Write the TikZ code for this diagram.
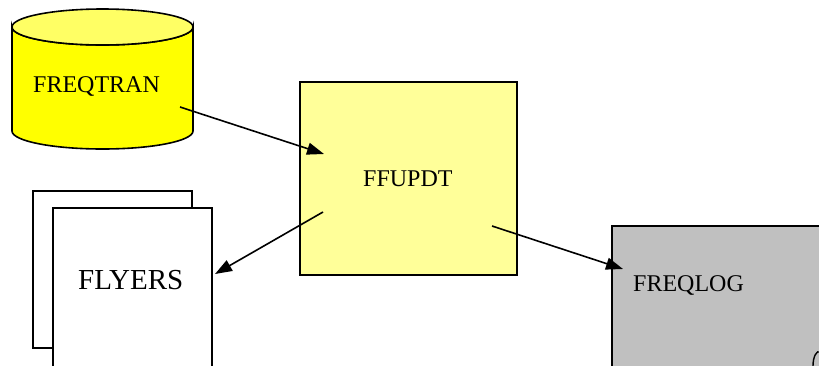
\documentclass[tikz,border=0pt]{standalone}
\usepackage{fontspec}
\setmainfont{Liberation Serif}
\usetikzlibrary{arrows.meta}
\definecolor{cylyellow}{RGB}{255,255,0}
\definecolor{cyltop}{RGB}{255,255,100}
\definecolor{paleyellow}{RGB}{255,255,153}
\definecolor{loggray}{RGB}{192,192,192}
\begin{document}
\begin{tikzpicture}[x=1pt,y=-1pt,
  shape line/.style={draw=black,line width=1.6pt},
  label text/.style={inner sep=0pt,anchor=base west,font=\fontsize{24}{28}\selectfont},
  big text/.style={inner sep=0pt,anchor=base west,font=\fontsize{29}{34}\selectfont},
  flow/.style={draw=black,line width=1.6pt,-{Triangle[length=17pt,width=12pt]}}]
\useasboundingbox (0,0) rectangle (819,365);
\clip (0,0) rectangle (819,365);
% FREQTRAN cylinder
\path[shape line,fill=cylyellow] (12,27) -- (12,131)
  arc[start angle=180,end angle=0,x radius=90.5,y radius=18] -- (193,27)
  arc[start angle=0,end angle=180,x radius=90.5,y radius=18] -- cycle;
\path[shape line,fill=cyltop] (102.5,27) ellipse[x radius=90.5,y radius=18];
\node[label text] (freqtran) at (33,92) {FREQTRAN};
% FFUPDT box
\path[shape line,fill=paleyellow] (300,82) rectangle (517,275);
\node[label text] (ffupdt) at (363,186) {FFUPDT};
% FLYERS pages
\path[shape line,fill=white] (33,191) rectangle (192,348);
\path[shape line,fill=white] (53,380) -- (53,208) -- (212,208) -- (212,380);
\node[big text] (flyers) at (78,289) {FLYERS};
% FREQLOG
\path[shape line,fill=loggray] (612,380) -- (612,226) -- (830,226) -- (830,380) -- cycle;
\node[label text] (freqlog) at (633,291) {FREQLOG};
\draw[line width=1.4pt] (813,366) .. controls (813,356) and (817,350) .. (820,352);
% connector ends
\coordinate (a1) at (180,107);
\coordinate (a2) at (324,154);
\coordinate (b1) at (323,212);
\coordinate (b2) at (215,274);
\coordinate (c1) at (492,226);
\coordinate (c2) at (623,269);
\draw[flow] (a1) -- (a2);
\draw[flow] (b1) -- (b2);
\draw[flow] (c1) -- (c2);
\end{tikzpicture}
\end{document}
